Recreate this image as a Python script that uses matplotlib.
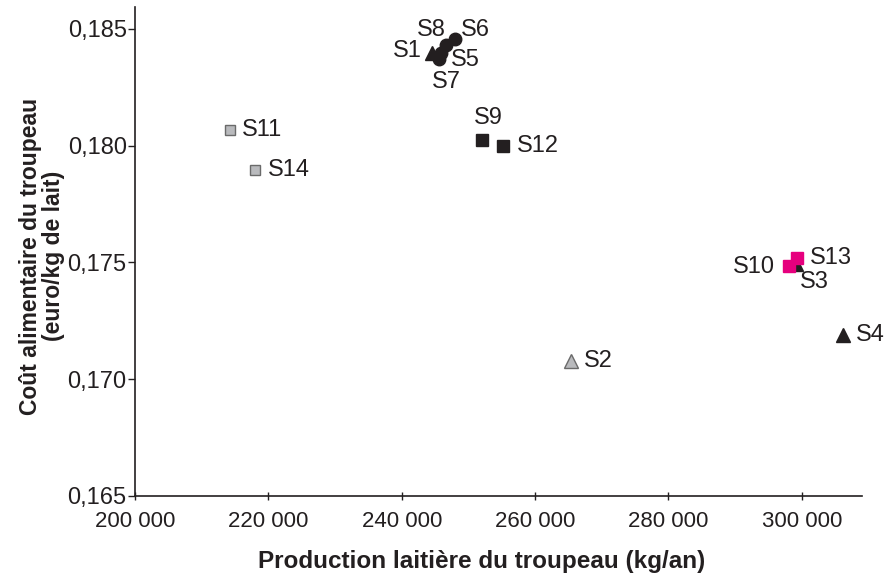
import matplotlib
matplotlib.use("Agg")
import matplotlib.pyplot as plt
from matplotlib.ticker import FuncFormatter, FixedLocator

plt.rcParams['font.family'] = ['Liberation Sans', 'DejaVu Sans']

# Data
names = ["S1", "S2", "S3", "S4", "S5", "S6", "S7", "S8", "S9", "S10", "S11", "S12", "S13", "S14"]
production = [244550, 265400, 299350, 306150, 245900, 248000, 245600, 246650, 252000, 298050, 214200, 255200, 299250, 218000]
cout = [0.18397, 0.17077, 0.17490, 0.17188, 0.18397, 0.18457, 0.18372, 0.18432, 0.18026, 0.17483, 0.18068, 0.18000, 0.17521, 0.17897]

x_ticks = [200000, 220000, 240000, 260000, 280000, 300000]
y_ticks = [0.165, 0.170, 0.175, 0.180, 0.185]

# styles per point
gray_fc, gray_ec = "#b9babd", "#6a6a6a"
black = "#231f20"
magenta = "#e6007e"
style = {
    "S1": dict(marker="^", ms=10, fc=black, ec=black),
    "S2": dict(marker="^", ms=10, fc=gray_fc, ec=gray_ec),
    "S3": dict(marker="^", ms=8, fc=black, ec=black),
    "S4": dict(marker="^", ms=10, fc=black, ec=black),
    "S5": dict(marker="o", ms=9, fc=black, ec=black),
    "S6": dict(marker="o", ms=9, fc=black, ec=black),
    "S7": dict(marker="o", ms=9, fc=black, ec=black),
    "S8": dict(marker="o", ms=9, fc=black, ec=black),
    "S9": dict(marker="s", ms=8, fc=black, ec=black),
    "S10": dict(marker="s", ms=8.5, fc=magenta, ec=magenta),
    "S11": dict(marker="s", ms=7.5, fc=gray_fc, ec=gray_ec),
    "S12": dict(marker="s", ms=8, fc=black, ec=black),
    "S13": dict(marker="s", ms=8.5, fc=magenta, ec=magenta),
    "S14": dict(marker="s", ms=7.5, fc=gray_fc, ec=gray_ec),
}
zorders = {"S3": 2, "S10": 4, "S13": 4}
# label offsets in pixels (dx right, dy down) from marker centre to label centre
offsets = {
    "S1": (-25, -2), "S2": (27, 0), "S3": (17, 17), "S4": (28, 0),
    "S5": (24, 7), "S6": (20, -9), "S7": (7, 23), "S8": (-15, -15),
    "S9": (7, -22), "S10": (-35, 1), "S11": (32, 0), "S12": (35, 0),
    "S13": (34, 0), "S14": (34, 0),
}

fig = plt.figure(figsize=(8.86, 5.76), dpi=100)
ax = fig.add_axes([0.1524, 0.1389, 0.8206, 0.8491])

for n, x, y in zip(names, production, cout):
    s = style[n]
    ax.plot([x], [y], linestyle="none", marker=s["marker"], markersize=s["ms"],
            markerfacecolor=s["fc"], markeredgecolor=s["ec"], markeredgewidth=1,
            zorder=zorders.get(n, 3), clip_on=False)
    dx, dy = offsets[n]
    ax.annotate(n, (x, y), xytext=(dx * 0.72, -dy * 0.72), textcoords="offset points",
                ha="center", va="center", fontsize=17, color="#231f20", zorder=5,
                annotation_clip=False)

ax.set_xlim(200000, 309050)
ax.set_ylim(0.165, 0.18594)
ax.xaxis.set_major_locator(FixedLocator(x_ticks))
ax.yaxis.set_major_locator(FixedLocator(y_ticks))
ax.xaxis.set_major_formatter(FuncFormatter(lambda v, p: f"{int(v):,}".replace(",", " ")))
ax.yaxis.set_major_formatter(FuncFormatter(lambda v, p: f"{v:.3f}".replace(".", ",")))

for sp in ["top", "right"]:
    ax.spines[sp].set_visible(False)
for sp in ["left", "bottom"]:
    ax.spines[sp].set_color("#231f20")
    ax.spines[sp].set_linewidth(1.2)

ax.tick_params(axis="x", direction="inout", length=6, width=1, colors="#231f20",
               labelsize=16, pad=8)
ax.tick_params(axis="y", direction="out", length=5, width=1, colors="#231f20",
               labelsize=17, pad=1)
for lab in ax.get_xticklabels() + ax.get_yticklabels():
    lab.set_color("#231f20")

ax.set_xlabel("Production laitière du troupeau (kg/an)", fontsize=17.5, fontweight="bold",
              color="#231f20", va="center")
ax.xaxis.set_label_coords(0.477, -0.133)
ax.set_ylabel("Coût alimentaire du troupeau\n(euro/kg de lait)", fontsize=16.5,
              fontweight="bold", color="#231f20", linespacing=1.0, va="center")
ax.yaxis.set_label_coords(-0.128, 0.49)

fig.savefig("out.png", dpi=100)
